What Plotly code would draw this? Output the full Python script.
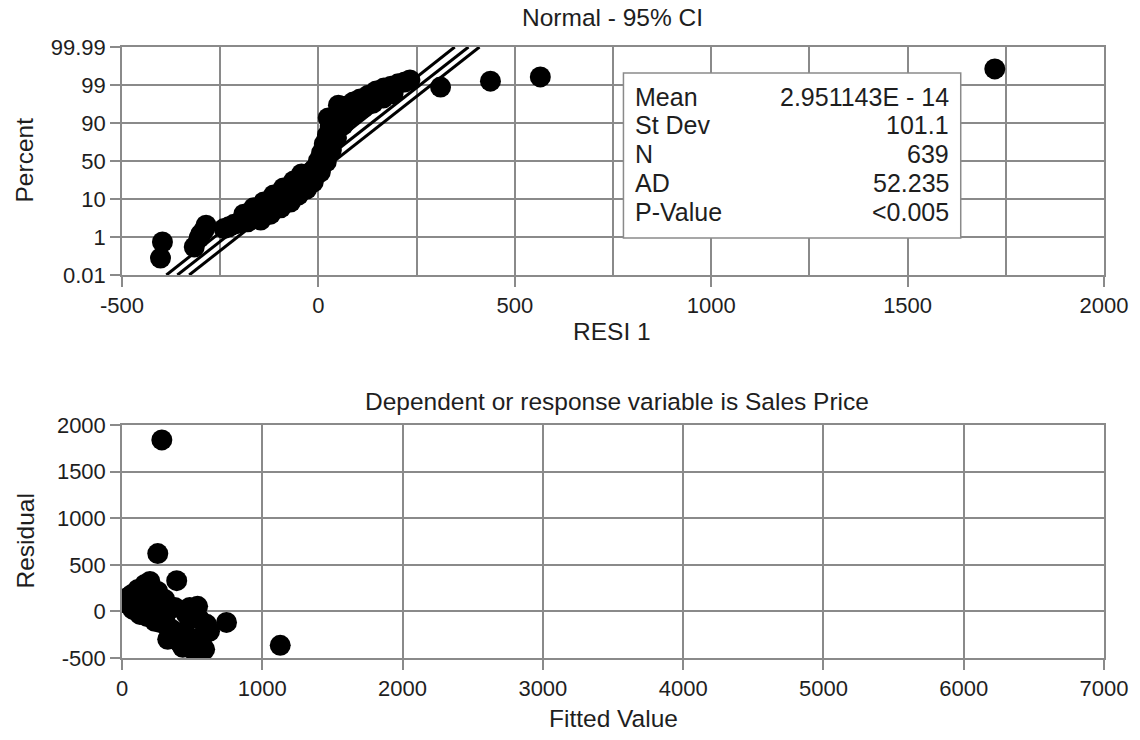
import numpy as np
import plotly.graph_objects as go

# ---------------- data ----------------
# Normal probability scale: tick percents drawn at evenly spaced positions
pct_ticks = [0.01, 1, 10, 50, 90, 99, 99.99]
pct_labels = ["0.01", "1", "10", "50", "90", "99", "99.99"]

# Residuals (RESI 1) and their cumulative percent
resid = [-397, -402, -316, -304, -291, -286, -228, -203, -177, -157, -139, -121,
         -101, -81, -61, -41, -25, -10, 0, 8, 15, 23, 30, 41, 53, 71, 89, 106,
         127, 147, 167, 185, 203, 220, 233, 311, 438, 565, 1722,
         -190, -165, -139, -114, -89, -63, -43, -147, -122, -96, -71, -51, -30,
         -13, 5, 20, 33, 46, 63, 89, 114, 139, 165, 190, 25, 51,
         -300, -240, -215, -180]
resid_pct = [0.87, 0.45, 0.74, 0.97, 2.7, 3.8, 3.4, 4.3, 5.3, 6.4, 7.4, 8.3,
             9.8, 14.2, 20.5, 26.8, 33.2, 41.6, 50.0, 58.4, 67.9, 77.4, 86.8, 91.2,
             92.6, 94.0, 95.0, 95.7, 96.6, 97.6, 98.3, 98.7, 99.03, 99.08, 99.13,
             98.5, 99.1, 99.21, 99.42,
             6.4, 7.9, 9.3, 14.2, 21.6, 29.0, 36.3, 5.0, 6.4, 7.9, 9.3, 14.2, 20.5,
             27.9, 38.4, 49.0, 61.6, 74.2, 87.9, 91.9, 93.6, 94.7, 95.9, 96.9,
             91.2, 94.2,
             1.6, 3.0, 4.0, 4.6]

# Fitted normal line and 95% CI lines (residual at 0.01% and 99.99%)
line_pct = [0.01, 99.99]
fit_line = [-359, 382]
ci_line_a = [-387, 347]
ci_line_b = [-329, 410]

# Summary statistics
stat_names = ["Mean", "St Dev", "N", "AD", "P-Value"]
stat_values = ["2.951143E - 14", "101.1", "639", "52.235", "<0.005"]

# Residuals versus fitted values
fitted = [284, 255, 390, 745, 1128, 21, 71, 163, 255, 128, 220, 319, 305, 355,
          326, 411, 504, 553, 574, 603, 539, 461, 78, 177, 270, 390, 461, 28, 57,
          43, 113, 199, 199, 305, 376, 128, 234, 326, 447, 518, 589, 433, 624,
          553, 483, 483]
residual = [1840, 620, 330, -118, -364, 96, 182, 289, 214, 54, 0, 0, -86, -193,
            -300, -332, -407, -375, -268, -139, 54, -32, 21, -54, -118, -268, -375,
            90, 120,
            150, 235, 321, 128, 128, 43, -32, -107, -171, -214, -300, -407, -385,
            -214, -86, 43, -385]

# Tick labels (hyphen minus signs)
top_x_ticks = [-500, 0, 500, 1000, 1500, 2000]
bot_x_ticks = [0, 1000, 2000, 3000, 4000, 5000, 6000, 7000]
bot_y_ticks = [-500, 0, 500, 1000, 1500, 2000]

# ---------------- styling ----------------
W, H = 1140, 740
L, R, T, B = 122, 31, 47, 82
FONT = "Liberation Sans, Arial, Helvetica, sans-serif"
TXT = "#1e1e1e"
GRID = "#8a8a8a"
FS_TICK = 22
FS_TITLE = 24.5
FS_BOX = 25


def px(x):
    return (x - L) / (W - L - R)


def py(y):
    return (H - B - y) / (H - T - B)


def to_pos(p):
    return np.interp(p, pct_ticks, np.arange(len(pct_ticks)))


def labels_of(vals):
    return [str(v) for v in vals]


fig = go.Figure()

# probability plot lines
for xs in (ci_line_a, fit_line, ci_line_b):
    fig.add_trace(go.Scatter(x=xs, y=to_pos(line_pct), mode="lines",
                             line=dict(color="black", width=3),
                             xaxis="x", yaxis="y", showlegend=False))

fig.add_trace(go.Scatter(x=resid, y=to_pos(resid_pct), mode="markers",
                         marker=dict(color="black", size=21, line=dict(width=0)),
                         xaxis="x", yaxis="y", showlegend=False))

fig.add_trace(go.Scatter(x=fitted, y=residual, mode="markers",
                         marker=dict(color="black", size=21, line=dict(width=0)),
                         xaxis="x2", yaxis="y2", showlegend=False))

axis_common = dict(showline=True, linecolor=GRID, linewidth=1.5, mirror=True,
                   showgrid=True, gridcolor=GRID, gridwidth=1.5, zeroline=False,
                   ticks="outside", ticklen=10, tickwidth=1.5, tickcolor=GRID,
                   tickfont=dict(family=FONT, size=FS_TICK, color=TXT))

top_dom = [py(275), 1.0]
bot_dom = [0.0, py(425)]

fig.update_layout(
    width=W, height=H,
    margin=dict(l=L, r=R, t=T, b=B),
    paper_bgcolor="white", plot_bgcolor="white",
    font=dict(family=FONT, size=FS_TITLE, color=TXT),
    xaxis=dict(domain=[0, 1], anchor="y", range=[-500, 2000],
               tickvals=top_x_ticks, ticktext=labels_of(top_x_ticks),
               minor=dict(dtick=250, tick0=-500, showgrid=True, gridcolor=GRID,
                          gridwidth=1.5, ticks=""),
               **axis_common),
    yaxis=dict(domain=top_dom, anchor="x", range=[0, 6],
               tickvals=list(range(len(pct_ticks))), ticktext=pct_labels,
               **axis_common),
    xaxis2=dict(domain=[0, 1], anchor="y2", range=[0, 7000],
                tickvals=bot_x_ticks, ticktext=labels_of(bot_x_ticks),
                **axis_common),
    yaxis2=dict(domain=bot_dom, anchor="x2", range=[-500, 2000],
                tickvals=bot_y_ticks, ticktext=labels_of(bot_y_ticks),
                **axis_common),
)

# statistics box
fig.add_shape(type="rect", xref="paper", yref="paper",
              x0=px(626), x1=px(965), y0=py(238), y1=py(73),
              fillcolor="white", line=dict(color=GRID, width=1.5), layer="above")
row_y = [97, 125, 154, 183, 212]
for name, val, ry in zip(stat_names, stat_values, row_y):
    fig.add_annotation(text=name, xref="paper", yref="paper", x=px(636), y=py(ry),
                       xanchor="left", yanchor="middle", showarrow=False,
                       font=dict(size=FS_BOX, color=TXT))
    fig.add_annotation(text=val, xref="paper", yref="paper", x=px(955), y=py(ry),
                       xanchor="right", yanchor="middle", showarrow=False,
                       font=dict(size=FS_BOX, color=TXT))

# titles and axis titles
labels = [
    ("Normal - 95% CI", 615, 18, 0),
    ("RESI 1", 614, 331, 0),
    ("Percent", 25, 160, -90),
    ("Dependent or response variable is Sales Price", 620, 402, 0),
    ("Fitted Value", 616, 718, 0),
    ("Residual", 25, 541, -90),
]
for text, x, y, ang in labels:
    fig.add_annotation(text=text, xref="paper", yref="paper", x=px(x), y=py(y),
                       xanchor="center", yanchor="middle", showarrow=False,
                       textangle=ang, font=dict(size=FS_TITLE, color=TXT))

fig.write_html("out.html")
